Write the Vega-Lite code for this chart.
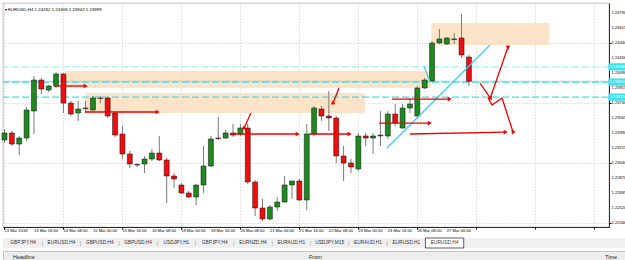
{
  "$schema": "https://vega.github.io/schema/vega-lite/v6.json",
  "background": "white",
  "padding": {"left": 1, "top": 2, "right": 0, "bottom": 0},
  "spacing": 1,
  "config": {
    "view": {"stroke": null},
    "font": "Liberation Sans",
    "axis": {"title": null},
    "scale": {"pointPadding": 0, "continuousPadding": 0}
  },
  "datasets": {
    "candles": [
      {"i":0,"o":1.23314,"h":1.23442,"l":1.23279,"c":1.23396},
      {"i":1,"o":1.23396,"h":1.23419,"l":1.23244,"c":1.23267},
      {"i":2,"o":1.23267,"h":1.23361,"l":1.23139,"c":1.23337},
      {"i":3,"o":1.23337,"h":1.23699,"l":1.23302,"c":1.23664},
      {"i":4,"o":1.23652,"h":1.24061,"l":1.23384,"c":1.24014},
      {"i":5,"o":1.24014,"h":1.24037,"l":1.23851,"c":1.23909},
      {"i":6,"o":1.23897,"h":1.23956,"l":1.23874,"c":1.23944},
      {"i":7,"o":1.23944,"h":1.24107,"l":1.23921,"c":1.24084},
      {"i":8,"o":1.24084,"h":1.24096,"l":1.23629,"c":1.23745},
      {"i":9,"o":1.23745,"h":1.23769,"l":1.23594,"c":1.23617},
      {"i":10,"o":1.23629,"h":1.23769,"l":1.23536,"c":1.23676},
      {"i":11,"o":1.23687,"h":1.23769,"l":1.23629,"c":1.2368},
      {"i":12,"o":1.23664,"h":1.23827,"l":1.23652,"c":1.23804},
      {"i":13,"o":1.23804,"h":1.23827,"l":1.23745,"c":1.238},
      {"i":14,"o":1.23804,"h":1.23816,"l":1.23571,"c":1.23594},
      {"i":15,"o":1.23629,"h":1.23652,"l":1.23349,"c":1.23372},
      {"i":16,"o":1.23384,"h":1.23477,"l":1.23092,"c":1.23151},
      {"i":17,"o":1.23151,"h":1.23186,"l":1.22987,"c":1.23034},
      {"i":18,"o":1.23028,"h":1.23046,"l":1.22999,"c":1.23022},
      {"i":19,"o":1.23034,"h":1.23127,"l":1.22929,"c":1.23092},
      {"i":20,"o":1.23092,"h":1.23209,"l":1.23069,"c":1.23162},
      {"i":21,"o":1.23162,"h":1.23361,"l":1.23069,"c":1.23081},
      {"i":22,"o":1.23081,"h":1.23104,"l":1.22579,"c":1.22894},
      {"i":23,"o":1.22894,"h":1.22929,"l":1.22754,"c":1.22859},
      {"i":24,"o":1.22789,"h":1.22812,"l":1.22684,"c":1.22696},
      {"i":25,"o":1.22696,"h":1.22719,"l":1.22637,"c":1.22649},
      {"i":26,"o":1.22649,"h":1.22801,"l":1.22556,"c":1.22789},
      {"i":27,"o":1.22789,"h":1.23244,"l":1.22696,"c":1.23011},
      {"i":28,"o":1.23011,"h":1.23361,"l":1.22999,"c":1.23326},
      {"i":29,"o":1.23337,"h":1.23582,"l":1.23314,"c":1.2333},
      {"i":30,"o":1.23337,"h":1.23431,"l":1.23326,"c":1.23396},
      {"i":31,"o":1.23396,"h":1.23501,"l":1.23349,"c":1.23372},
      {"i":32,"o":1.23384,"h":1.23501,"l":1.23361,"c":1.23454},
      {"i":33,"o":1.23454,"h":1.23501,"l":1.22801,"c":1.22824},
      {"i":34,"o":1.22824,"h":1.22847,"l":1.22427,"c":1.22521},
      {"i":35,"o":1.22521,"h":1.22626,"l":1.22369,"c":1.22392},
      {"i":36,"o":1.22392,"h":1.22556,"l":1.2238,"c":1.22532},
      {"i":37,"o":1.22532,"h":1.22649,"l":1.22486,"c":1.22591},
      {"i":38,"o":1.22591,"h":1.22894,"l":1.22579,"c":1.22789},
      {"i":39,"o":1.22789,"h":1.22836,"l":1.22626,"c":1.22836},
      {"i":40,"o":1.22836,"h":1.22859,"l":1.22603,"c":1.22614},
      {"i":41,"o":1.22614,"h":1.23501,"l":1.22497,"c":1.23384},
      {"i":42,"o":1.23384,"h":1.23711,"l":1.23361,"c":1.23687},
      {"i":43,"o":1.23676,"h":1.23711,"l":1.23536,"c":1.23594},
      {"i":44,"o":1.23594,"h":1.23886,"l":1.23419,"c":1.23571},
      {"i":45,"o":1.23571,"h":1.23594,"l":1.23046,"c":1.23127},
      {"i":46,"o":1.23127,"h":1.23244,"l":1.22836,"c":1.23046},
      {"i":47,"o":1.23046,"h":1.23092,"l":1.22929,"c":1.22999},
      {"i":48,"o":1.22976,"h":1.23396,"l":1.22952,"c":1.23361},
      {"i":49,"o":1.23361,"h":1.23396,"l":1.23244,"c":1.23337},
      {"i":50,"o":1.23337,"h":1.23396,"l":1.23151,"c":1.23361},
      {"i":51,"o":1.23361,"h":1.23652,"l":1.23244,"c":1.23372},
      {"i":52,"o":1.23361,"h":1.23652,"l":1.23326,"c":1.23617},
      {"i":53,"o":1.23617,"h":1.23734,"l":1.23477,"c":1.23512},
      {"i":54,"o":1.23454,"h":1.23734,"l":1.23442,"c":1.23687},
      {"i":55,"o":1.23687,"h":1.23804,"l":1.23629,"c":1.23734},
      {"i":56,"o":1.23594,"h":1.23944,"l":1.23571,"c":1.23921},
      {"i":57,"o":1.23921,"h":1.24037,"l":1.23909,"c":1.24014},
      {"i":58,"o":1.24002,"h":1.24469,"l":1.23991,"c":1.24446},
      {"i":59,"o":1.24446,"h":1.24609,"l":1.24434,"c":1.24493},
      {"i":60,"o":1.24434,"h":1.24516,"l":1.24423,"c":1.24504},
      {"i":61,"o":1.24493,"h":1.24563,"l":1.24434,"c":1.24487},
      {"i":62,"o":1.24504,"h":1.24784,"l":1.24271,"c":1.24306},
      {"i":63,"o":1.24282,"h":1.24308,"l":1.23942,"c":1.23999}
    ],
    "pricelabels": [
      {"p": 1.2479}, {"p": 1.24615}, {"p": 1.2444}, {"p": 1.24266}, {"p": 1.2409},
      {"p": 1.23915}, {"p": 1.2374}, {"p": 1.23565}, {"p": 1.2339}, {"p": 1.23215},
      {"p": 1.2304}, {"p": 1.2287}, {"p": 1.22695}, {"p": 1.2252}, {"p": 1.22346}
    ],
    "datelabels": [
      {"i": 0, "t": "13 Mar 2018"}, {"i": 4, "t": "13 Mar 16:00"}, {"i": 8, "t": "14 Mar 08:00"},
      {"i": 12, "t": "15 Mar 00:00"}, {"i": 16, "t": "15 Mar 16:00"}, {"i": 20, "t": "16 Mar 08:00"},
      {"i": 24, "t": "19 Mar 00:00"}, {"i": 28, "t": "19 Mar 16:00"}, {"i": 32, "t": "20 Mar 08:00"},
      {"i": 36, "t": "21 Mar 00:00"}, {"i": 40, "t": "21 Mar 16:00"}, {"i": 44, "t": "22 Mar 08:00"},
      {"i": 48, "t": "23 Mar 00:00"}, {"i": 52, "t": "23 Mar 16:00"}, {"i": 56, "t": "26 Mar 08:00"},
      {"i": 60, "t": "27 Mar 00:00"}
    ]
  },
  "vconcat": [
    {
      "width": 606,
      "height": 224,
      "view": {"stroke": "#9a9a9a", "strokeWidth": 0.6},
      "title": {"text": "▾ EURUSD,H4  1.24282 1.24308 1.23942 1.23999", "anchor": "start", "orient": "top", "offset": -9, "dx": 3, "fontSize": 4.4, "fontWeight": "normal", "color": "#000", "font": "Liberation Sans"},
      "layer": [
        {
          "data": {"values": [
            {"x1": 8.21, "x2": 57.9, "p1": 1.24119, "p2": 1.23921},
            {"x1": 10.92, "x2": 48.9, "p1": 1.23862, "p2": 1.23629},
            {"x1": 57.9, "x2": 73.9, "p1": 1.24679, "p2": 1.24423}
          ]},
          "mark": {"type": "rect", "fill": "#FCDDBB", "opacity": 0.8},
          "encoding": {
            "x": {"field": "x1", "type": "quantitative",
              "scale": {"domain": [-0.2, 82], "nice": false, "zero": false, "padding": 0},
              "axis": {"values": [0,4,8,12,16,20,24,28,32,36,40,44,48,52,56,60,64,68,72,76,80],
                "labels": false, "tickSize": 2, "tickColor": "#000", "domainColor": "#000", "domainWidth": 0.8,
                "grid": true, "gridColor": "#C4C4C4", "gridDash": [1.5, 1.5], "gridWidth": 0.6,
                "title": null, "minExtent": 8, "maxExtent": 8}},
            "x2": {"field": "x2"},
            "y": {"field": "p1", "type": "quantitative",
              "scale": {"domain": [1.22299, 1.249125], "nice": false, "zero": false, "padding": 0},
              "axis": {"orient": "right", "values": [1.2479,1.24615,1.2444,1.24266,1.2409,1.23915,1.2374,1.23565,1.2339,1.23215,1.2304,1.2287,1.22695,1.2252,1.22346],
                "labels": false, "tickSize": 2, "tickColor": "#000", "domainColor": "#000", "domainWidth": 0.8,
                "grid": true, "gridColor": "#C4C4C4", "gridDash": [1.5, 1.5], "gridWidth": 0.6, "title": null, "minExtent": 18, "maxExtent": 18}},
            "y2": {"field": "p2"}
          }
        },
        {
          "data": {"values": [{"p": 1.23999}]},
          "mark": {"type": "rule", "color": "#B8B8B8", "strokeWidth": 0.8},
          "encoding": {"y": {"field": "p", "type": "quantitative"}}
        },
        {
          "data": {"values": [{"p": 1.24168, "k": "pale"}, {"p": 1.2399, "k": "aqua"}, {"p": 1.23815, "k": "aqua"}]},
          "mark": {"type": "rule", "strokeWidth": 1.2, "strokeDash": [7, 3]},
          "encoding": {
            "y": {"field": "p", "type": "quantitative"},
            "color": {"field": "k", "type": "nominal", "scale": {"domain": ["pale", "aqua"], "range": ["#A6F0F2", "#3EE0EA"]}, "legend": null}
          }
        },
        {
          "data": {"name": "candles"},
          "mark": {"type": "rule", "color": "#7a7a7a", "strokeWidth": 1},
          "encoding": {
            "x": {"field": "i", "type": "quantitative"},
            "y": {"field": "l", "type": "quantitative"},
            "y2": {"field": "h"}
          }
        },
        {
          "data": {"name": "candles"},
          "mark": {"type": "bar", "size": 5, "stroke": "#111", "strokeWidth": 0.5},
          "encoding": {
            "x": {"field": "i", "type": "quantitative"},
            "y": {"field": "o", "type": "quantitative"},
            "y2": {"field": "c"},
            "fill": {"condition": {"test": "datum.c >= datum.o", "value": "#1E8A1E"}, "value": "#F20C0C"}
          }
        },
        {
          "data": {"values": [
            {"seg": "t1", "i": 51.89, "p": 1.23221}, {"seg": "t1", "i": 65.86, "p": 1.24422},
            {"seg": "t2", "i": 56.9, "p": 1.24178}, {"seg": "t2", "i": 57.7, "p": 1.24002}
          ]},
          "mark": {"type": "line", "color": "#3EC8EE", "strokeWidth": 1.2},
          "encoding": {
            "x": {"field": "i", "type": "quantitative"},
            "y": {"field": "p", "type": "quantitative"},
            "detail": {"field": "seg"}
          }
        },
        {
          "data": {"values": [
            {"seg": "a1", "i": 6.72, "p": 1.23944}, {"seg": "a1", "i": 10.93, "p": 1.23944},
            {"seg": "a2", "i": 10.93, "p": 1.23641}, {"seg": "a2", "i": 20.69, "p": 1.23641},
            {"seg": "a3", "i": 30.59, "p": 1.23384}, {"seg": "a3", "i": 39.68, "p": 1.23384},
            {"seg": "a4", "i": 41.31, "p": 1.23384}, {"seg": "a4", "i": 46.74, "p": 1.23384},
            {"seg": "a5", "i": 33.44, "p": 1.23629}, {"seg": "a5", "i": 32.49, "p": 1.23454},
            {"seg": "a6", "i": 45.38, "p": 1.23921}, {"seg": "a6", "i": 44.57, "p": 1.23745},
            {"seg": "a7", "i": 52.57, "p": 1.23792}, {"seg": "a7", "i": 60.3, "p": 1.23792},
            {"seg": "a8", "i": 50.8, "p": 1.23512}, {"seg": "a8", "i": 57.6, "p": 1.23512},
            {"seg": "a9", "i": 55.0, "p": 1.23384}, {"seg": "a9", "i": 67.9, "p": 1.23407},
            {"seg": "a10", "i": 64.5, "p": 1.23979}, {"seg": "a10", "i": 65.9, "p": 1.23804},
            {"seg": "a11", "i": 65.9, "p": 1.23804}, {"seg": "a11", "i": 68.3, "p": 1.24399},
            {"seg": "a12", "i": 65.6, "p": 1.23804}, {"seg": "a12", "i": 66.13, "p": 1.23722}, {"seg": "a12", "i": 67.49, "p": 1.23804},
            {"seg": "a13", "i": 67.49, "p": 1.23804}, {"seg": "a13", "i": 68.98, "p": 1.23407}
          ]},
          "mark": {"type": "line", "color": "#F00000", "strokeWidth": 1.3},
          "encoding": {
            "x": {"field": "i", "type": "quantitative"},
            "y": {"field": "p", "type": "quantitative"},
            "detail": {"field": "seg"}
          }
        },
        {
          "data": {"values": [
            {"i": 10.93, "p": 1.23944, "dir": "r"},
            {"i": 20.69, "p": 1.23641, "dir": "r"},
            {"i": 39.68, "p": 1.23384, "dir": "r"},
            {"i": 46.74, "p": 1.23384, "dir": "r"},
            {"i": 32.49, "p": 1.23454, "dir": "dl"},
            {"i": 44.57, "p": 1.23745, "dir": "dl"},
            {"i": 60.3, "p": 1.23792, "dir": "r"},
            {"i": 57.6, "p": 1.23512, "dir": "r"},
            {"i": 67.9, "p": 1.23407, "dir": "r"},
            {"i": 65.9, "p": 1.23804, "dir": "dr"},
            {"i": 68.3, "p": 1.24399, "dir": "ur"},
            {"i": 68.98, "p": 1.23407, "dir": "dd"}
          ]},
          "mark": {"type": "point", "shape": "triangle", "filled": true, "color": "#F00000", "size": 22, "opacity": 1},
          "encoding": {
            "x": {"field": "i", "type": "quantitative"},
            "y": {"field": "p", "type": "quantitative"},
            "angle": {"field": "dir", "type": "nominal", "scale": {"domain": ["r", "dl", "dr", "ur", "dd"], "range": [90, 204, 146, 19, 162]}, "legend": null}
          }
        },
        {
          "data": {"name": "pricelabels"},
          "mark": {"type": "text", "fontSize": 4.1, "color": "#000000", "align": "left", "baseline": "middle"},
          "encoding": {
            "x": {"datum": 82.35},
            "y": {"field": "p", "type": "quantitative"},
            "text": {"field": "p", "type": "quantitative", "format": ".5f"}
          }
        },
        {
          "data": {"name": "datelabels"},
          "mark": {"type": "text", "fontSize": 4.1, "color": "#000000", "align": "left", "baseline": "top"},
          "encoding": {
            "x": {"field": "i", "type": "quantitative"},
            "y": {"datum": 1.22277},
            "text": {"field": "t"}
          }
        },
        {
          "data": {"values": [{"p": 1.24168}, {"p": 1.2399}, {"p": 1.23815}]},
          "mark": {"type": "point", "shape": "M-1,-0.42H1V0.42H-1Z", "filled": true, "color": "#3EE0EA", "size": 300, "opacity": 1},
          "encoding": {
            "x": {"datum": 83.1},
            "y": {"field": "p", "type": "quantitative"}
          }
        },
        {
          "data": {"values": [{"p": 1.24168}, {"p": 1.2399}, {"p": 1.23815}]},
          "mark": {"type": "text", "fontSize": 4.1, "color": "#FFFFFF", "align": "center", "baseline": "middle"},
          "encoding": {
            "x": {"datum": 83.1},
            "y": {"field": "p", "type": "quantitative"},
            "text": {"field": "p", "type": "quantitative", "format": ".5f"}
          }
        }
      ]
    },
    {
      "width": 624,
      "height": 10,
      "view": {"fill": "#F0F0F0", "stroke": null},
      "data": {"values": [
        {"n": 1, "tab": "GBPJPY,H4", "active": false},
        {"n": 2, "tab": "EURUSD,H4", "active": false},
        {"n": 3, "tab": "GBPUSD,H4", "active": false},
        {"n": 4, "tab": "GBPUSD,H4", "active": false},
        {"n": 5, "tab": "USDJPY,H1", "active": false},
        {"n": 6, "tab": "GBPJPY,H4", "active": false},
        {"n": 7, "tab": "EURNZD,H4", "active": false},
        {"n": 8, "tab": "EURAUD,H1", "active": false},
        {"n": 9, "tab": "USDJPY,M15", "active": false},
        {"n": 10, "tab": "EURAUD,H1", "active": false},
        {"n": 11, "tab": "EURUSD,H1", "active": false},
        {"n": 12, "tab": "EURUSD,H4", "active": true}
      ]},
      "layer": [
        {
          "transform": [{"filter": "datum.active"}],
          "mark": {"type": "bar", "fill": "#FFFFFF", "stroke": "#333333", "strokeWidth": 0.8},
          "encoding": {
            "x": {"field": "n", "type": "ordinal", "scale": {"domain": [1,2,3,4,5,6,7,8,9,10,11,12,13,14,15,16], "range": [1, 614], "paddingInner": 0, "paddingOuter": 0}, "axis": null}
          }
        },
        {
          "mark": {"type": "text", "fontSize": 4.8, "color": "#333333"},
          "encoding": {
            "x": {"field": "n", "type": "ordinal", "axis": null},
            "text": {"field": "tab"}
          }
        },
        {
          "transform": [{"filter": "datum.n < 12"}],
          "mark": {"type": "text", "fontSize": 6, "color": "#9a9a9a"},
          "encoding": {
            "x": {"field": "n", "type": "ordinal", "bandPosition": 1, "axis": null},
            "text": {"value": "|"}
          }
        }
      ]
    },
    {
      "width": 624,
      "height": 12,
      "view": {"fill": "#EDEDED", "stroke": "#C4C4C4"},
      "data": {"values": [{"col": "Headline"}, {"col": "From"}, {"col": "Time"}]},
      "mark": {"type": "text", "fontSize": 5.5, "color": "#222222", "align": "left"},
      "encoding": {
        "x": {"field": "col", "type": "nominal", "sort": null, "scale": {"type": "point", "domain": ["Headline", "From", "Time"], "range": [10, 602], "padding": 0}, "axis": null},
        "text": {"field": "col"}
      }
    }
  ]
}
